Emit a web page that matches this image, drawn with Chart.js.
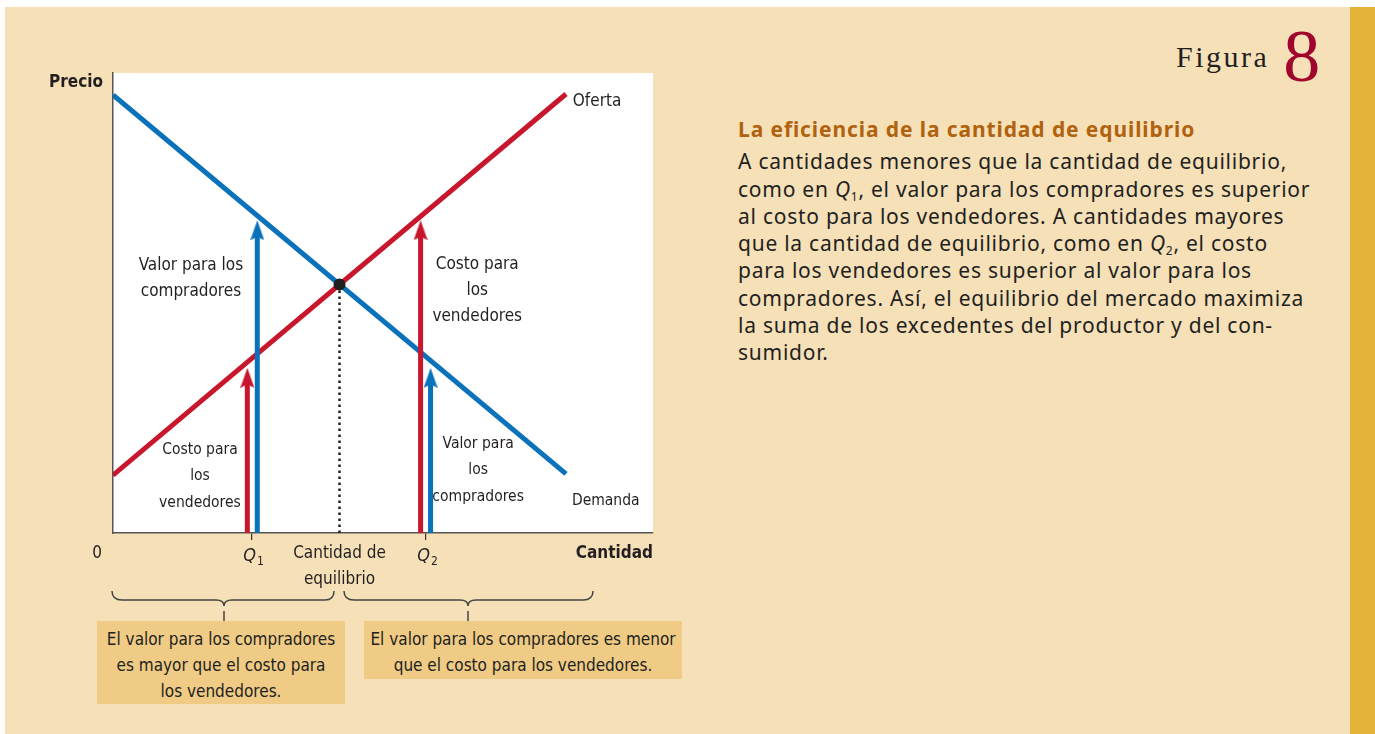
<!DOCTYPE html>
<html lang="es">
<head>
<meta charset="utf-8">
<title>Figura 8 – La eficiencia de la cantidad de equilibrio</title>
<script src="https://cdn.jsdelivr.net/npm/chart.js@4.4.1/dist/chart.umd.min.js"></script>
<style>
  html, body { margin: 0; padding: 0; background: #fff; }
  #page { position: relative; width: 1375px; height: 734px; overflow: hidden; background: #fff; }
  #panel { position: absolute; left: 5px; top: 7px; width: 1345px; height: 727px; background: #f5e0b8; }
  #goldBar { position: absolute; left: 1350px; top: 7px; width: 25px; height: 727px; background: #e4b43a; }
  #chartBox { position: absolute; left: 0; top: 0; width: 700px; height: 600px; }
  #braces { position: absolute; left: 0; top: 0; }
  .note {
    position: absolute; background: #efcb85; color: #231f20; text-align: center;
    font-family: 'Liberation Sans Narrow', 'DejaVu Sans Condensed', Roboto, sans-serif;
    font-size: 17px; line-height: 26px; box-sizing: border-box; padding-top: 5px;
  }
  #figLabel { position: absolute; left: 1176px; top: 14px; font-family: 'Liberation Serif', 'DejaVu Serif', serif; color: #231f20; white-space: nowrap; }
  #figLabel .word { font-size: 30px; letter-spacing: 2.5px; vertical-align: 14px; }
  #figLabel .num { font-size: 74px; color: #a0052d; margin-left: 14px; }
  #caption { position: absolute; left: 738px; top: 116px; width: 610px; font-family: 'Noto Sans', 'Open Sans', sans-serif; font-size: 21px; letter-spacing: 0.75px; line-height: 27.3px; color: #231f20; }
  #caption .title { font-weight: 700; color: #b0620f; margin-bottom: 5px; letter-spacing: 0.9px; }
  #caption sub { font-size: 12px; vertical-align: -4px; line-height: 0; }
</style>
</head>
<body>
<div id="page">
  <div id="panel"></div>
  <div id="goldBar"></div>

  <div id="figLabel"><span class="word">Figura</span><span class="num">8</span></div>

  <div id="caption">
    <div class="title">La eficiencia de la cantidad de equilibrio</div>
    A cantidades menores que la cantidad de equilibrio,<br>
    como en <i>Q</i><sub>1</sub>, el valor para los compradores es superior<br>
    al costo para los vendedores. A cantidades mayores<br>
    que la cantidad de equilibrio, como en <i>Q</i><sub>2</sub>, el costo<br>
    para los vendedores es superior al valor para los<br>
    compradores. Así, el equilibrio del mercado maximiza<br>
    la suma de los excedentes del productor y del con-<br>
    sumidor.
  </div>

  <div id="chartBox"><canvas id="chart" width="700" height="600"></canvas></div>

  <svg id="braces" width="700" height="640">
    <g fill="none" stroke="#444" stroke-width="1.5">
      <path d="M112,591 Q112,600 122,600 L216,600 Q224,600 224,606 Q224,600 232,600 L325,600 Q334,600 334,591"/>
      <line x1="224" y1="611" x2="224" y2="621"/>
      <path d="M344,591 Q344,600 354,600 L460,600 Q468,600 468,606 Q468,600 476,600 L583,600 Q593,600 593,591"/>
      <line x1="468" y1="611" x2="468" y2="621"/>
    </g>
  </svg>

  <div class="note" style="left:97px; top:621px; width:248px; height:83px;">
    El valor para los compradores<br>es mayor que el costo para<br>los vendedores.
  </div>
  <div class="note" style="left:364px; top:621px; width:318px; height:58px;">
    El valor para los compradores es menor<br>que el costo para los vendedores.
  </div>
</div>

<script>
/* ─── Data ──────────────────────────────────────── */
const DEMAND      = [{ x: 0, y: 10.0 }, { x: 10, y: 1.35 }];
const SUPPLY      = [{ x: 0, y: 1.32 }, { x: 10, y: 10.02 }];
const EQUILIBRIUM = { x: 5, y: 5.67 };
const Q1 = 3.05;
const Q2 = 6.89;

// vertical arrows: x position and where the tip stops
const ARROW_X    = [2.965, 3.185, 6.79, 7.01];
const ARROW_TIP  = [3.77, 7.14, 7.14, 3.77];
const ARROW_KIND = ['cost', 'value', 'cost', 'value'];

const X_MAX = 11.92;
const Y_MAX = 10.5;

/* ─── Look ──────────────────────────────────────── */
const BLUE = '#0a72bb';
const RED  = '#c8162d';
const INK  = '#231f20';
const COND = "'Liberation Sans Narrow', 'DejaVu Sans Condensed', Roboto, sans-serif";

const PLOT = { left: 113, top: 73, right: 653, bottom: 533 };
const HEAD_INSET_PX = 10;   // shaft stops this far below the arrow tip
const TEXT_NUDGE = 2.5;     // canvas 'middle' sits a bit high for this font

const PLOT_LABELS = [
  { lines: ['Valor para los', 'compradores'],     x: 1.72,  y: 6.16, size: 17,   lead: 26,   align: 'center' },
  { lines: ['Costo para', 'los', 'vendedores'],   x: 8.04,  y: 6.19, size: 17,   lead: 26,   align: 'center' },
  { lines: ['Costo para', 'los', 'vendedores'],   x: 1.92,  y: 1.96, size: 15.5, lead: 26.5, align: 'center' },
  { lines: ['Valor para', 'los', 'compradores'],  x: 8.06,  y: 2.10, size: 15.5, lead: 26.5, align: 'center' },
  { lines: ['Oferta'],                            x: 10.15, y: 9.91, size: 17,   lead: 0,    align: 'left' },
  { lines: ['Demanda'],                           x: 10.13, y: 0.78, size: 15.5, lead: 0,    align: 'left' },
];

/* ─── Helpers ───────────────────────────────────── */
function makeHead(color) {
  const c = document.createElement('canvas');
  c.width = 14;
  c.height = 20;
  const g = c.getContext('2d');
  g.fillStyle = color;
  g.beginPath();
  g.moveTo(7, 0);
  g.lineTo(14, 20);
  g.lineTo(7, 16.5);
  g.lineTo(0, 20);
  g.closePath();
  g.fill();
  return c;
}

const heads = { cost: makeHead(RED), value: makeHead(BLUE) };
const yPerPx = Y_MAX / (PLOT.bottom - PLOT.top);

function arrowDataset(i) {
  const kind  = ARROW_KIND[i];
  const color = kind === 'cost' ? RED : BLUE;
  return {
    data: [{ x: ARROW_X[i], y: 0 }, { x: ARROW_X[i], y: ARROW_TIP[i] - HEAD_INSET_PX * yPerPx }],
    showLine: true,
    borderColor: color,
    borderWidth: 5,
    borderCapStyle: 'butt',
    pointRadius: [0, 5],
    pointStyle: [false, heads[kind]],
    order: 1,
  };
}

/* ─── Plugins ───────────────────────────────────── */
const whitePlot = {
  id: 'whitePlot',
  beforeDraw(chart) {
    const { ctx, chartArea: a } = chart;
    ctx.save();
    ctx.fillStyle = '#fff';
    ctx.fillRect(a.left, a.top, a.right - a.left, a.bottom - a.top);
    ctx.restore();
  },
};

function drawQ(ctx, cx, cy, sub) {
  ctx.font = `italic 18px ${COND}`;
  const wq = ctx.measureText('Q').width;
  ctx.font = `12px ${COND}`;
  const ws = ctx.measureText(sub).width;
  const left = cx - (wq + ws) / 2;
  ctx.textAlign = 'left';
  ctx.font = `italic 18px ${COND}`;
  ctx.fillText('Q', left, cy);
  ctx.font = `12px ${COND}`;
  ctx.fillText(sub, left + wq + 1, cy + 5);
}

const figureText = {
  id: 'figureText',
  afterDraw(chart) {
    const { ctx, scales: { x, y } } = chart;
    ctx.save();
    ctx.fillStyle = INK;
    ctx.textBaseline = 'middle';

    PLOT_LABELS.forEach(l => {
      ctx.font = `${l.size}px ${COND}`;
      ctx.textAlign = l.align;
      const px = x.getPixelForValue(l.x);
      const py = y.getPixelForValue(l.y) + TEXT_NUDGE;
      l.lines.forEach((t, i) => ctx.fillText(t, px, py + i * l.lead));
    });

    const base = y.getPixelForValue(0) + TEXT_NUDGE;

    ctx.font = `bold 17px ${COND}`;
    ctx.textAlign = 'right';
    ctx.fillText('Precio', x.left - 10, y.top + 7 + TEXT_NUDGE);
    ctx.fillText('Cantidad', x.right, base + 18);

    ctx.font = `17px ${COND}`;
    ctx.textAlign = 'center';
    ctx.fillText('0', x.left - 16, base + 18);
    const ex = x.getPixelForValue(EQUILIBRIUM.x);
    ctx.fillText('Cantidad de', ex, base + 18);
    ctx.fillText('equilibrio', ex, base + 44);

    drawQ(ctx, x.getPixelForValue(Q1) + 2, base + 21, '1');
    drawQ(ctx, x.getPixelForValue(Q2) + 2, base + 21, '2');
    ctx.restore();
  },
};

/* ─── Chart ─────────────────────────────────────── */
const datasets = [
  ...ARROW_X.map((_, i) => arrowDataset(i)),
  {
    data: [EQUILIBRIUM],
    pointRadius: 6,
    pointBackgroundColor: INK,
    pointBorderWidth: 0,
    order: 2,
  },
  {
    data: [{ x: EQUILIBRIUM.x, y: 0 }, EQUILIBRIUM],
    showLine: true,
    borderColor: INK,
    borderWidth: 2.5,
    borderDash: [2.5, 3.5],
    pointRadius: 0,
    order: 3,
  },
  {
    data: DEMAND,
    showLine: true,
    borderColor: BLUE,
    borderWidth: 5,
    borderCapStyle: 'butt',
    pointRadius: 0,
    order: 4,
  },
  {
    data: SUPPLY,
    showLine: true,
    borderColor: RED,
    borderWidth: 5,
    borderCapStyle: 'butt',
    pointRadius: 0,
    order: 4,
  },
];

new Chart(document.getElementById('chart'), {
  type: 'scatter',
  data: { datasets },
  options: {
    responsive: false,
    animation: false,
    events: [],
    layout: { padding: { left: PLOT.left, top: PLOT.top, right: 700 - PLOT.right, bottom: 600 - PLOT.bottom - 7 } },
    plugins: { legend: { display: false }, tooltip: { enabled: false } },
    scales: {
      x: {
        type: 'linear',
        min: 0,
        max: X_MAX,
        afterBuildTicks: scale => { scale.ticks = [{ value: Q1 }, { value: Q2 }]; },
        ticks: { display: false },
        grid: { display: true, drawOnChartArea: false, drawTicks: true, tickLength: 7, color: '#333', lineWidth: 1.2 },
        border: { display: true, color: '#555', width: 1.5 },
      },
      y: {
        type: 'linear',
        min: 0,
        max: Y_MAX,
        ticks: { display: false },
        grid: { display: false, drawTicks: false },
        border: { display: true, color: '#555', width: 1.5 },
      },
    },
  },
  plugins: [whitePlot, figureText],
});
</script>
</body>
</html>
